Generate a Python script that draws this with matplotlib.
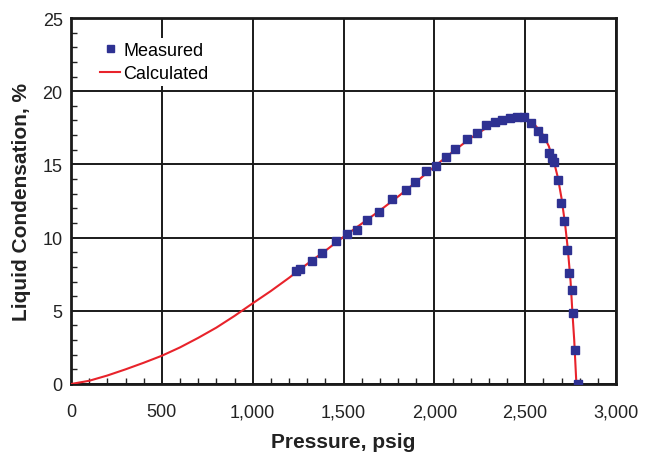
import matplotlib
matplotlib.use("Agg")
import matplotlib.pyplot as plt
from matplotlib.ticker import MultipleLocator, FuncFormatter

# Measured data (pressure psig, liquid condensation %)
meas_p = [1238, 1260, 1325, 1383, 1459, 1518, 1574, 1631, 1697, 1769, 1842, 1892,
          1954, 2009, 2063, 2112, 2180, 2236, 2284, 2332, 2372, 2417, 2453, 2491,
          2530, 2568, 2597, 2630, 2646, 2659, 2678, 2696, 2712, 2729, 2742, 2756,
          2765, 2774, 2791]
meas_l = [7.70, 7.86, 8.42, 8.95, 9.75, 10.25, 10.52, 11.22, 11.75, 12.66, 13.25, 13.82,
          14.55, 14.91, 15.51, 16.03, 16.76, 17.12, 17.69, 17.90, 18.05, 18.17, 18.22, 18.24,
          17.81, 17.30, 16.79, 15.78, 15.45, 15.14, 13.95, 12.35, 11.12, 9.17, 7.57, 6.44,
          4.83, 2.32, 0.0]

# Calculated curve
calc_p = [0, 100, 200, 300, 400, 500, 600, 700, 800, 900, 1000, 1100, 1200, 1300,
          1400, 1500, 1600, 1700, 1800, 1900, 2000, 2100, 2200, 2300, 2400, 2450,
          2500, 2550, 2600, 2630, 2660, 2680, 2700, 2720, 2735, 2750, 2760, 2770, 2782]
calc_l = [0, 0.22, 0.58, 1.0, 1.45, 1.93, 2.5, 3.15, 3.85, 4.65, 5.51, 6.35, 7.25, 8.2,
          9.1, 10.05, 10.95, 11.85, 12.8, 13.8, 14.85, 15.85, 16.8, 17.6, 18.1, 18.22,
          18.15, 17.75, 17.0, 16.25, 15.1, 14.1, 12.7, 10.9, 9.2, 7.0, 4.9, 3.0, 0.0]

xticks = [0, 500, 1000, 1500, 2000, 2500, 3000]
yticks = [0, 5, 10, 15, 20, 25]

plt.rcParams['font.family'] = ['Liberation Sans', 'DejaVu Sans']

fig = plt.figure(figsize=(6.48, 4.6), dpi=100)
ax = fig.add_axes([71/648, 75/460, 545/648, 366/460])

ax.plot(calc_p, calc_l, color='#E8232B', lw=1.5, label='Calculated', zorder=3)
ax.plot(meas_p, meas_l, ls='none', marker='s', ms=6.3, color='#2E3192',
        mec='#2E3192', label='Measured', zorder=4)

ax.set_xlim(0, 3000)
ax.set_ylim(0, 25)
ax.set_xticks(xticks)
ax.set_yticks(yticks)
ax.xaxis.set_major_formatter(FuncFormatter(lambda v, _: f"{int(v):,}"))
ax.xaxis.set_minor_locator(MultipleLocator(100))
ax.yaxis.set_minor_locator(MultipleLocator(1))
ax.tick_params(which='both', direction='in', top=False, right=False, labelsize=13,
               colors='#222222')
ax.tick_params(which='major', length=0)
ax.tick_params(axis='x', which='major', pad=14)
ax.tick_params(axis='y', which='major', pad=6)
ax.tick_params(which='minor', length=4, width=1, color='#222222')
ax.grid(True, which='major', color='#1a1a1a', lw=1.4)
for s in ax.spines.values():
    s.set_color('#1a1a1a')
    s.set_linewidth(2)

ax.set_xlabel('Pressure, psig', fontsize=15, fontweight='bold', color='#222222', labelpad=8)
ax.set_ylabel('Liquid Condensation, %', fontsize=15, fontweight='bold', color='#222222', labelpad=8)

h, l = ax.get_legend_handles_labels()
leg = ax.legend([h[1], h[0]], [l[1], l[0]], loc='upper left', bbox_to_anchor=(0.03, 0.97),
                frameon=True, fancybox=False, facecolor='white', edgecolor='none',
                framealpha=1, fontsize=13, handlelength=1.1, handletextpad=0.2,
                borderpad=0.2, labelspacing=0.35, markerscale=0.8)
leg.set_zorder(5)

fig.savefig('out.png', dpi=100)
